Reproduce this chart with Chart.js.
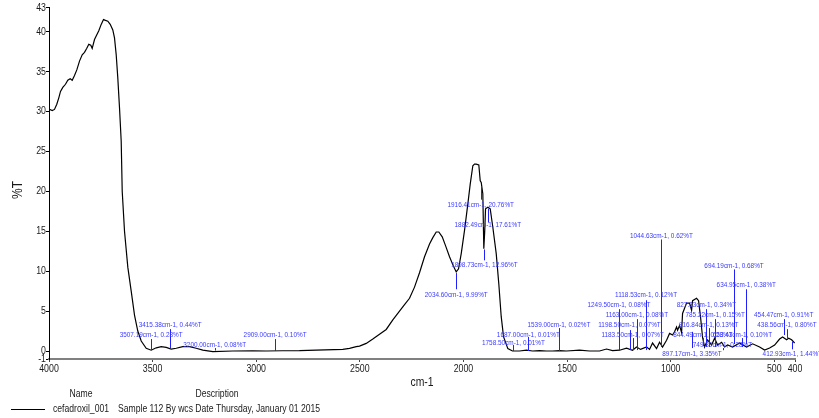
<!DOCTYPE html>
<html>
<head>
<meta charset="utf-8">
<script src="https://cdn.jsdelivr.net/npm/chart.js@4/dist/chart.umd.min.js"></script>
<style>
  html, body { margin: 0; padding: 0; background: #fff; }
  #wrap { width: 819px; height: 418px; }
</style>
</head>
<body>
<div id="wrap"><canvas id="c" width="819" height="418"></canvas></div>
<script>
// ---- data ----
const wavenumbers = [4000, 3984.6, 3973.5, 3962.4, 3952.7, 3944.5, 3933.4, 3920.4, 3909.3, 3897.7, 3888.0, 3876.9, 3865.8, 3852.8, 3839.8, 3828.7, 3817.6, 3807.9, 3798.3, 3791.5, 3780.4, 3769.3, 3759.7, 3748.1, 3737.0, 3727.3, 3716.2, 3704.6, 3692.1, 3683.9, 3675.7, 3668.0, 3659.8, 3651.6, 3646.7, 3635.6, 3619.7, 3603.3, 3587.4, 3571.5, 3555.0, 3530.9, 3506.8, 3482.6, 3458.5, 3434.4, 3410.3, 3386.1, 3354.3, 3321.9, 3289.6, 3257.8, 3209.5, 3112.9, 3016.4, 2951.8, 2871.7, 2791.1, 2710.5, 2582.1, 2549.8, 2517.4, 2501.5, 2469.2, 2437.3, 2405.0, 2372.7, 2340.8, 2308.5, 2284.3, 2260.2, 2236.1, 2212.0, 2187.8, 2163.7, 2147.8, 2131.4, 2118.8, 2102.4, 2086.5, 2067.2, 2047.9, 2034.9, 2023.7, 2010.7, 1994.8, 1978.9, 1967.3, 1954.7, 1946.6, 1938.3, 1925.8, 1919.0, 1914.2, 1906.5, 1901.7, 1897.3, 1893.4, 1882.3, 1870.8, 1858.2, 1841.8, 1829.3, 1817.7, 1806.6, 1785.8, 1763.3, 1729.5, 1695.7, 1666.7, 1633.0, 1599.0, 1570.1, 1536.4, 1502.6, 1439.8, 1391.6, 1343.3, 1309.5, 1280.5, 1246.7, 1212.9, 1184.0, 1164.7, 1145.3, 1116.4, 1101.9, 1087.4, 1068.1, 1053.6, 1039.1, 1019.8, 1005.3, 990.8, 981.2, 971.5, 966.7, 957.1, 947.4, 942.6, 923.3, 908.8, 899.1, 894.3, 875.0, 865.3, 855.6, 846.0, 836.3, 821.8, 802.5, 788.0, 773.5, 754.2, 739.7, 725.2, 701.1, 667.3, 633.5, 604.6, 570.8, 546.7, 522.5, 498.4, 474.3, 459.8, 440.5, 430.8, 416.3, 401.8];
const transmittance = [30.3, 30.1, 30.25, 30.9, 31.7, 32.5, 33.0, 33.4, 33.9, 34.1, 33.9, 34.5, 35.2, 36.3, 37.1, 37.4, 37.9, 38.4, 38.3, 37.9, 39.0, 39.6, 40.1, 40.9, 41.5, 41.4, 41.3, 40.9, 40.2, 39.2, 37.1, 34.2, 30.5, 26.3, 20.0, 15.0, 10.5, 7.5, 4.5, 2.5, 1.25, 0.35, 0.1, 0.4, 0.55, 0.45, 0.25, 0.35, 0.55, 0.55, 0.35, 0.12, -0.08, 0.0, 0.03, 0.0, 0.03, 0.05, 0.12, 0.2, 0.33, 0.54, 0.62, 0.95, 1.5, 2.1, 2.7, 3.9, 5.0, 5.8, 6.6, 8.0, 9.8, 11.8, 13.4, 14.2, 14.9, 14.9, 14.3, 13.2, 11.8, 10.6, 9.9, 10.3, 12.2, 15.1, 18.4, 20.9, 23.2, 23.4, 23.4, 23.3, 21.3, 21.1, 19.7, 12.8, 15.0, 17.8, 18.0, 17.8, 15.5, 12.2, 8.4, 4.3, 1.8, 0.3, 0.0, 0.0, 0.1, 0.0, 0.05, 0.0, 0.0, 0.05, 0.0, 0.1, 0.0, 0.0, 0.25, 0.05, 0.1, 0.35, 0.1, 0.5, 0.2, 0.5, 0.2, 1.0, 0.3, 1.1, 0.5, 1.35, 2.2, 2.0, 2.4, 3.0, 2.6, 3.2, 2.3, 4.7, 6.0, 6.0, 5.1, 6.3, 6.6, 6.3, 4.2, 1.7, 0.5, 1.4, 0.75, 1.6, 0.75, 1.1, 0.5, 0.75, 0.5, 1.0, 0.5, 0.9, 0.5, 0.12, 0.37, 0.75, 1.5, 1.75, 1.4, 1.6, 1.4, 1.0];

const xTickValues = [4000, 3500, 3000, 2500, 2000, 1500, 1000, 500, 400];
const yTickValues = [43, 40, 35, 30, 25, 20, 15, 10, 5, 0, -1];

const peakWavenumbers = [3507.19, 3415.38, 3200.00, 2909.00, 2034.60, 1916.41, 1898.73, 1882.49, 1758.50, 1687.00, 1539.00, 1249.50, 1198.50, 1183.50, 1163.00, 1118.53, 1044.63, 897.17, 844.49, 827.33, 816.84, 785.22, 749.80, 694.19, 653.43, 634.95, 454.47, 438.56, 412.93];
const peakLabels = ["3507.19cm-1, 0.28%T", "3415.38cm-1, 0.44%T", "3200.00cm-1, 0.08%T", "2909.00cm-1, 0.10%T", "2034.60cm-1, 9.99%T", "1916.41cm-1, 20.76%T", "1898.73cm-1, 12.96%T", "1882.49cm-1, 17.61%T", "1758.50cm-1, 0.01%T", "1687.00cm-1, 0.01%T", "1539.00cm-1, 0.02%T", "1249.50cm-1, 0.08%T", "1198.50cm-1, 0.07%T", "1183.50cm-1, 0.07%T", "1163.00cm-1, 0.08%T", "1118.53cm-1, 0.12%T", "1044.63cm-1, 0.62%T", "897.17cm-1, 3.35%T", "844.49cm-1, 0.28%T", "827.33cm-1, 0.34%T", "816.84cm-1, 0.13%T", "785.22cm-1, 0.15%T", "749.80cm-1, 0.28%T", "694.19cm-1, 0.68%T", "653.43cm-1, 0.10%T", "634.95cm-1, 0.38%T", "454.47cm-1, 0.91%T", "438.56cm-1, 0.80%T", "412.93cm-1, 1.44%T"];
// label placement (in %T units): text level, marker top, marker bottom
const peakTextLevel = [2.0, 3.33, 0.75, 2.0, 6.98, 18.33, 10.85, 15.84, 1.08, 2.08, 3.24, 5.74, 3.24, 2.0, 4.49, 6.98, 14.46, -0.41, 2.0, 5.74, 3.33, 4.58, 0.75, 10.72, 2.0, 8.32, 4.49, 3.33, -0.41];
const peakMarkTop = [1.5, 2.74, 0.37, 1.5, 9.76, 20.57, 12.72, 17.83, 0.75, 1.75, 2.87, 5.24, 2.62, 1.62, 3.99, 6.36, 13.97, 2.4, 1.62, 5.24, 2.87, 3.99, 0.37, 10.22, 1.62, 7.73, 3.99, 2.74, 1.16];
const peakMarkBottom = [0.12, 0.37, 0.06, 0.0, 7.73, 18.95, 11.35, 16.08, 0.0, 0.0, 0.0, 0.0, 0.12, 0.12, 0.12, 0.12, 0.5, 0.37, 0.62, 0.5, 0.5, 0.5, 0.1, 0.87, 0.5, 0.87, 2.0, 1.62, 0.21];

const sampleName = "cefadroxil_001";
const sampleDescription = "Sample 112 By wcs Date Thursday, January 01 2015";

const FONT = '"Liberation Sans", Arial, sans-serif';
const SQUEEZE = 0.8; // the reference uses a narrow sans face

function narrowText(ctx, text, x, y, size, align, baseline, k) {
  ctx.save();
  ctx.translate(x, y);
  ctx.scale(k || SQUEEZE, 1);
  ctx.font = size + 'px ' + FONT;
  ctx.textAlign = align;
  ctx.textBaseline = baseline || 'middle';
  ctx.fillText(text, 0, 0);
  ctx.restore();
}

const points = wavenumbers.map((w, i) => ({ x: w, y: transmittance[i] }));

const peakPlugin = {
  id: 'peakPlugin',
  afterDatasetsDraw(chart) {
    const ctx = chart.ctx, xs = chart.scales.x, ys = chart.scales.y;
    ctx.save();
    ctx.lineWidth = 1;
    ctx.strokeStyle = '#2020ff';
    peakWavenumbers.forEach((w, i) => {
      const px = Math.round(xs.getPixelForValue(w)) + 0.5;
      ctx.beginPath();
      ctx.moveTo(px, ys.getPixelForValue(peakMarkTop[i]));
      ctx.lineTo(px, ys.getPixelForValue(peakMarkBottom[i]));
      ctx.stroke();
    });
    ctx.fillStyle = '#3a3aff';
    peakWavenumbers.forEach((w, i) => {
      narrowText(ctx, peakLabels[i], xs.getPixelForValue(w), ys.getPixelForValue(peakTextLevel[i]), 8, 'center');
    });
    ctx.restore();
  },
  afterDraw(chart) {
    const ctx = chart.ctx, a = chart.chartArea, xs = chart.scales.x, ys = chart.scales.y;
    ctx.save();
    ctx.fillStyle = '#1a1a1a';
    // tick labels
    xTickValues.forEach(v => narrowText(ctx, String(v), xs.getPixelForValue(v), 369, 11, 'center'));
    yTickValues.forEach(v => narrowText(ctx, String(v), a.left - 3, ys.getPixelForValue(v), 11, 'right'));
    // y title
    ctx.save();
    ctx.translate(18, 190);
    ctx.rotate(-Math.PI / 2);
    narrowText(ctx, '%T', 0, 0, 15, 'center');
    ctx.restore();
    // x title
    narrowText(ctx, 'cm-1', (a.left + a.right) / 2, 382, 13, 'center');
    // table
    narrowText(ctx, 'Name', 81, 394, 10.5, 'center', 'middle', 0.82);
    narrowText(ctx, 'Description', 217, 394, 10.5, 'center', 'middle', 0.82);
    narrowText(ctx, sampleName, 53, 409, 10.5, 'left', 'middle', 0.82);
    narrowText(ctx, sampleDescription, 118, 409, 10.5, 'left', 'middle', 0.82);
    ctx.strokeStyle = '#000';
    ctx.lineWidth = 1;
    ctx.beginPath();
    ctx.moveTo(11, 409.5);
    ctx.lineTo(45, 409.5);
    ctx.stroke();
    ctx.restore();
  }
};

new Chart(document.getElementById('c'), {
  type: 'line',
  data: {
    datasets: [{
      data: points,
      borderColor: '#000',
      borderWidth: 1.2,
      pointRadius: 0,
      tension: 0,
      fill: false
    }]
  },
  options: {
    responsive: false,
    animation: false,
    layout: { padding: { top: 6, right: 24, bottom: 0, left: 0 } },
    plugins: { legend: { display: false }, tooltip: { enabled: false } },
    scales: {
      x: {
        type: 'linear',
        reverse: true,
        min: 400,
        max: 4000,
        afterBuildTicks: s => { s.ticks = xTickValues.map(v => ({ value: v })); },
        afterFit: s => { s.height = 59; },
        ticks: { autoSkip: false, maxRotation: 0, padding: 1, color: 'rgba(0,0,0,0)', callback: v => String(v), font: { size: 11, family: FONT } },
        grid: { drawOnChartArea: false, drawTicks: true, tickLength: 3, color: '#444' },
        border: { display: true, color: '#808080', width: 2 }
      },
      y: {
        min: -1,
        max: 43,
        afterBuildTicks: s => { s.ticks = yTickValues.map(v => ({ value: v })); },
        afterFit: s => { s.width = 49; },
        ticks: { autoSkip: false, padding: 1, color: 'rgba(0,0,0,0)', callback: v => String(v), font: { size: 11, family: FONT } },
        grid: { drawOnChartArea: false, drawTicks: true, tickLength: 3, color: '#000' },
        border: { display: true, color: '#000', width: 1 }
      }
    }
  },
  plugins: [peakPlugin]
});
</script>
</body>
</html>
